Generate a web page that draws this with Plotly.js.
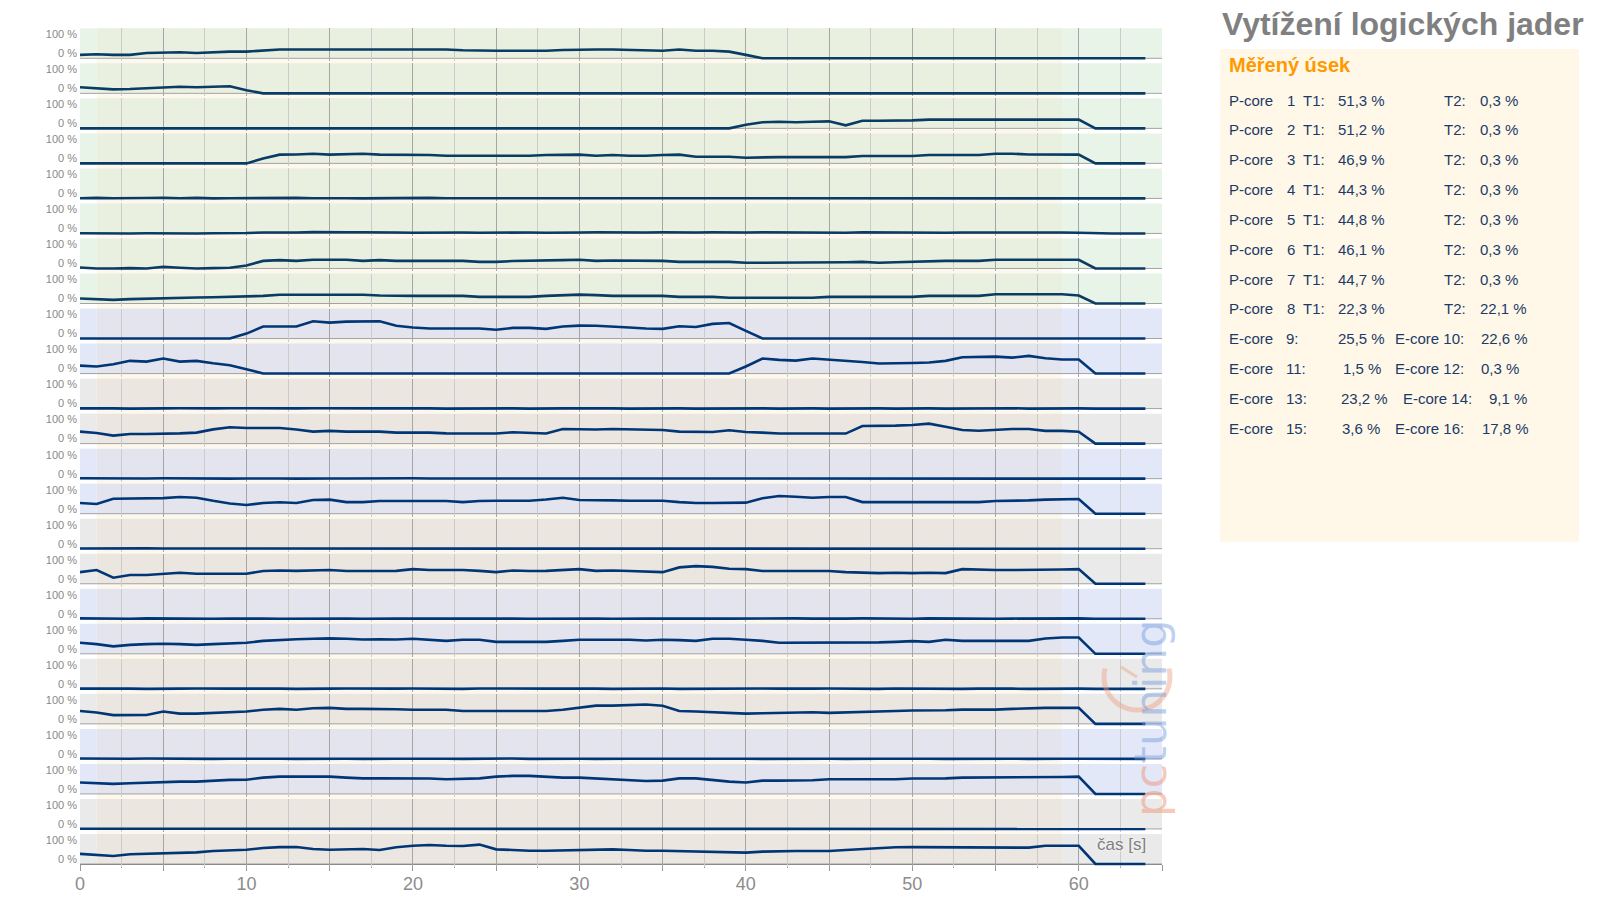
<!DOCTYPE html>
<html>
<head>
<meta charset="utf-8">
<script src="https://cdn.plot.ly/plotly-3.0.1.min.js"></script>
<style>html,body{margin:0;padding:0;background:#fff;}#chart{width:1599px;height:897px;}</style>
</head>
<body>
<div id="chart"></div>
<script>
// ---------------- DATA ----------------
const seconds = [0,1,2,3,4,5,6,7,8,9,10,11,12,13,14,15,16,17,18,19,20,21,22,23,24,25,26,27,28,29,30,31,32,33,34,35,36,37,38,39,40,41,42,43,44,45,46,47,48,49,50,51,52,53,54,55,56,57,58,59,60,61,62,63,64];

const row01 = [18,21,18,18,28,30,32,28,33,35, 35,42,46,46,46,46,46,46,46,46, 46,46,46,42,40,40,40,40,40,44, 46,46,46,44,40,40,46,40,40,35, 18,0,0,0,0,0,0,0,0,0, 0,0,0,0,0,0,0,0,0,0, 0,0,0,0,0];
const row02 = [32,26,21,23,28,30,35,32,35,37, 16,0,0,0,0,0,0,0,0,0, 0,0,0,0,0,0,0,0,0,0, 0,0,0,0,0,0,3,0,0,0, 0,0,0,0,0,0,0,0,0,0, 0,3,0,0,0,0,0,0,3,0, 3,0,0,0,0];
const row03 = [0,0,0,0,0,0,0,0,0,0, 0,0,0,0,0,0,0,0,0,0, 0,0,0,0,0,0,0,0,0,0, 0,0,0,0,0,0,2,0,0,0, 19,32,35,32,35,37,16,40,40,40, 42,46,46,46,46,46,49,47,46,46, 46,0,0,0,0];
const row04 = [0,0,0,0,0,0,0,0,0,0, 0,26,46,47,51,46,47,51,46,46, 46,44,40,40,40,40,40,40,44,46, 46,40,44,40,40,44,46,35,35,35, 30,33,33,33,33,33,33,39,39,39, 39,44,44,44,44,51,51,47,46,46, 46,0,0,0,0];
const row05 = [1,3,1,0,2,3,1,3,0,1, 2,0,1,3,1,2,1,0,1,2, 1,3,1,1,2,0,1,3,2,1, 0,2,1,3,1,0,2,1,0,2, 1,0,2,1,1,3,1,0,2,1, 0,1,3,1,1,2,0,3,1,2, 1,1,0,0,0];
const row06 = [1,0,1,0,1,0,1,0,1,1, 2,5,4,5,7,5,6,6,4,5, 4,5,6,5,4,5,6,5,4,6, 5,6,5,4,5,6,4,5,6,4, 5,6,5,6,5,5,4,6,5,5, 6,5,4,5,6,5,5,5,6,5, 4,1,0,0,0];
const row07 = [5,0,0,2,0,9,4,0,2,4, 16,40,44,40,46,46,46,40,44,40, 40,40,40,40,35,35,39,40,40,44, 46,40,42,42,42,40,35,35,35,35, 30,30,30,30,30,30,33,35,30,33, 35,40,40,40,40,46,46,46,46,46, 46,0,0,0,0];
const row08 = [26,23,19,23,26,28,32,32,33,35, 35,40,46,46,46,46,46,46,42,40, 40,40,40,40,35,35,35,35,40,44, 47,44,40,40,40,40,35,35,35,30, 30,30,30,30,30,35,35,35,35,35, 35,40,40,40,40,49,49,49,49,49, 42,0,0,0,0];
const row09 = [0,0,0,0,0,0,0,0,0,0, 26,63,63,63,91,84,89,91,91,67, 58,53,53,53,53,46,56,56,51,63, 68,67,61,58,53,51,65,61,77,82, 40,0,0,0,0,0,0,0,0,0, 0,0,0,0,0,0,0,0,0,0, 0,0,0,0,0];
const row10 = [42,37,49,67,63,79,63,67,54,44, 23,0,0,0,0,0,0,0,0,0, 0,0,0,0,0,0,0,0,0,0, 0,0,0,0,0,0,0,0,0,0, 37,79,72,68,79,74,67,61,53,53, 56,58,67,86,89,89,84,93,81,74, 74,0,0,0,0];
const row11 = [1,2,1,0,2,1,2,0,1,2, 1,0,2,1,2,1,0,2,1,1, 2,1,0,1,2,1,1,0,2,1, 1,2,1,0,1,2,1,0,1,2, 1,1,0,2,1,0,1,2,1,0, 2,1,0,1,2,1,2,0,1,2, 1,0,0,0,0];
const row12 = [63,56,42,51,51,51,54,58,75,86, 82,82,82,74,63,67,63,63,63,58, 58,58,54,53,53,53,60,58,53,77, 74,74,77,75,75,72,63,61,61,70, 61,58,53,53,53,53,53,93,93,95, 98,105,89,72,68,72,77,77,67,67, 63,0,0,0,0];
const row13 = [2,1,2,0,1,2,1,2,1,0, 1,2,1,0,2,1,1,2,0,1, 2,1,1,0,1,2,0,1,2,1, 1,0,2,1,1,0,1,2,1,0, 1,2,1,1,0,2,1,1,0,1, 2,1,0,1,2,1,1,2,0,2, 2,0,0,0,0];
const row14 = [56,51,79,79,81,82,88,84,68,54, 46,56,60,56,72,74,61,61,67,67, 67,67,67,61,67,68,67,68,75,84, 72,72,70,68,68,68,61,56,56,56, 58,81,93,89,84,88,88,61,61,61, 61,61,61,61,61,67,67,70,74,75, 77,0,0,0,0];
const row15 = [1,2,0,1,2,1,1,0,2,1, 1,2,1,1,0,2,1,0,1,2, 1,1,0,2,1,1,2,0,1,1, 2,1,0,1,2,1,0,1,2,1, 1,0,2,1,1,2,0,1,2,1, 1,0,1,2,1,1,0,2,1,1, 1,0,0,0,0];
const row16 = [61,72,32,46,46,51,58,53,53,53, 53,67,70,68,70,72,67,67,67,68, 77,72,72,72,68,61,70,67,68,72, 77,68,70,67,63,61,86,93,89,79, 77,67,67,67,67,67,61,58,56,58, 56,58,56,77,74,72,72,72,72,75, 77,0,0,0,0];
const row17 = [2,1,1,0,2,1,2,1,0,1, 2,1,0,1,2,1,1,0,2,1, 1,2,0,1,1,2,1,0,1,2, 1,1,0,2,1,1,0,2,1,1, 2,0,1,2,1,0,1,2,1,1, 0,2,1,1,2,0,1,2,1,1, 2,0,0,0,0];
const row18 = [58,51,39,47,51,53,51,47,51,54, 58,68,74,77,79,81,79,75,77,75, 79,74,68,74,74,63,63,60,63,68, 74,74,74,74,70,74,72,68,79,79, 74,68,58,58,58,58,58,58,60,63, 67,63,74,68,68,68,68,68,81,86, 86,0,0,0,0];
const row19 = [1,2,1,1,0,2,1,2,0,1, 1,2,1,0,2,1,2,1,0,1, 2,1,1,0,2,1,0,2,1,1, 2,1,0,1,1,2,0,1,2,1, 1,2,1,0,1,2,1,1,0,2, 1,1,2,0,1,2,1,0,1,2, 1,0,0,0,0];
const row20 = [68,60,46,47,47,65,54,54,58,63, 65,74,79,74,82,84,79,79,79,77, 74,74,74,68,68,68,68,68,68,74, 86,96,96,98,102,95,68,65,61,58, 54,56,58,58,61,58,61,65,65,68, 70,70,72,75,75,75,79,82,84,84, 84,0,0,0,0];
const row21 = [2,1,0,1,2,1,1,2,0,1, 2,1,1,0,1,2,1,0,2,1, 1,2,1,0,1,1,2,0,1,2, 1,0,2,1,1,2,0,1,1,2, 1,0,1,2,1,1,0,2,1,1, 2,1,0,1,1,2,1,0,2,1, 1,0,0,0,0];
const row22 = [60,56,53,56,60,63,65,65,70,74, 75,86,91,91,88,91,86,82,82,82, 82,81,77,81,82,91,95,95,89,86, 86,82,79,74,68,70,82,82,72,65, 60,70,70,70,72,77,77,77,77,77, 81,81,82,86,86,89,89,88,88,89, 91,0,0,0,0];
const row23 = [1,1,2,0,1,2,1,0,2,1, 1,2,0,1,2,1,1,0,1,2, 1,0,2,1,1,2,1,0,1,1, 2,1,0,1,2,1,1,0,2,1, 1,2,1,0,1,2,0,1,1,2, 1,0,1,2,1,1,2,0,1,1, 2,0,0,0,0];
const row24 = [53,47,42,51,53,56,58,61,68,72, 75,84,89,89,79,75,77,79,74,88, 96,100,96,95,102,77,74,70,70,72, 74,75,77,74,70,70,68,67,65,63, 60,65,68,68,68,68,74,79,82,88, 89,89,89,89,89,89,89,86,96,96, 96,0,0,0,0];

const rows = [row01,row02,row03,row04,row05,row06,row07,row08,row09,row10,row11,row12,
              row13,row14,row15,row16,row17,row18,row19,row20,row21,row22,row23,row24];
// panel group of each row: 'p' P-cores, 'b' blue, 'g' grey
const rowGroup = ['p','p','p','p','p','p','p','p','b','b','g','g','b','b','g','g','b','b','g','g','b','b','g','g'];

const measuredStart = 1, measuredEnd = 59;
const xTickVals = [0,5,10,15,20,25,30,35,40,45,50,55,60,65];
const xTickText = ['0','','10','','20','','30','','40','','50','','60',''];
const yTickVals = [0, 100];
const yTickText = ['0 %', '100 %'];

const chartTitle = 'Vytížení logických jader';
const boxTitle = 'Měřený úsek';
const pCoreNums = ['1','2','3','4','5','6','7','8'];
const pT1Vals = ['51,3 %','51,2 %','46,9 %','44,3 %','44,8 %','46,1 %','44,7 %','22,3 %'];
const pT2Vals = ['0,3 %','0,3 %','0,3 %','0,3 %','0,3 %','0,3 %','0,3 %','22,1 %'];
const eLeftNums = ['9:','11:','13:','15:'];
const eLeftVals = ['25,5 %','1,5 %','23,2 %','3,6 %'];
const eRightLabels = ['E-core 10:','E-core 12:','E-core 14:','E-core 16:'];
const eRightVals = ['22,6 %','0,3 %','9,1 %','17,8 %'];
const xAxisLabel = 'čas [s]';

// ---------------- LAYOUT GEOMETRY ----------------
const FONT = 'Liberation Sans, Arial, sans-serif';
const L = 80, R = 1162, T = 28, B = 867;
const PW = R - L, PH = B - T;
const AXIS_Y = 864;
const px = x => (x - L) / PW;
const py = y => (B - y) / PH;
const ROW0 = 58.3, ROWSTEP = 35.03, PANEL = 30, BELOW = 3;
const K = 100 / 19; // units per pixel

const colors = {
  p: {out: '#e8f4e8', inn: '#e9f0df', line: '#0a3b64'},
  b: {out: '#e3e8f9', inn: '#e4e4ef', line: '#003676'},
  g: {out: '#eaeaea', inn: '#ebe6df', line: '#003676'}
};

const traces = [];
const layout = {
  width: 1599, height: 897,
  margin: {l: L, r: 1599 - R, t: T, b: 897 - B, pad: 0},
  paper_bgcolor: '#ffffff', plot_bgcolor: 'rgba(0,0,0,0)',
  showlegend: false, hovermode: false,
  font: {family: FONT},
  title: {text: chartTitle, xref: 'container', yref: 'container', x: 1222/1599, xanchor: 'left',
          y: 1 - 24/897, yanchor: 'middle',
          font: {family: FONT, size: 32, color: '#808080', weight: 'bold'}},
  xaxis: {range: [0, 65], domain: [0, 1], anchor: 'free', position: py(AXIS_Y),
          tickmode: 'array', tickvals: xTickVals, ticktext: xTickText,
          ticks: 'outside', ticklen: 6, tickcolor: '#999999', tickwidth: 1,
          ticklabelstandoff: -3,
          showgrid: true, gridcolor: '#a6a6a6', gridwidth: 1,
          minor: {tickmode: 'linear', tick0: 0, dtick: 2.5, showgrid: true, gridcolor: '#cbcbcb',
                  ticks: 'outside', ticklen: 3, tickcolor: '#999999'},
          showline: true, linecolor: '#8a8a8a', linewidth: 1, zeroline: false,
          tickfont: {family: FONT, size: 18, color: '#8c8c8c'}, fixedrange: true},
  yaxis: {domain: [py(AXIS_Y), 1], range: [0, 1], anchor: 'x', showticklabels: false, ticks: '',
          showgrid: false, zeroline: false, showline: true, mirror: true, linecolor: '#a0a0a0', fixedrange: true},
  shapes: [], annotations: []
};

// measured-section cream band (shows in the gaps between panels)
layout.shapes.push({type: 'rect', xref: 'x', yref: 'paper', x0: measuredStart, x1: measuredEnd,
  y0: py(AXIS_Y), y1: 1, fillcolor: '#fdf8ee', line: {width: 0}, layer: 'below'});

rows.forEach((vals, i) => {
  const base = ROW0 + i * ROWSTEP;
  const axName = 'yaxis' + (i + 2);
  const c = colors[rowGroup[i]];
  layout[axName] = {
    domain: [Math.max(0, py(base + BELOW)), py(base - PANEL)],
    range: [-(Math.min(BELOW, B - base)) * K, PANEL * K],
    anchor: 'x', showgrid: false, zeroline: false, showline: false, ticks: '',
    tickmode: 'array', tickvals: yTickVals, ticktext: yTickText, ticklabelshift: -5, ticklabelstandoff: 2,
    tickfont: {family: FONT, size: 11, color: '#888888'}, fixedrange: true
  };
  const y0 = py(base), y1 = py(base - PANEL);
  layout.shapes.push({type: 'rect', xref: 'x', yref: 'paper', x0: 0, x1: measuredStart, y0: y0, y1: y1, fillcolor: c.out, line: {width: 0}, layer: 'below'});
  layout.shapes.push({type: 'rect', xref: 'x', yref: 'paper', x0: measuredStart, x1: measuredEnd, y0: y0, y1: y1, fillcolor: c.inn, line: {width: 0}, layer: 'below'});
  layout.shapes.push({type: 'rect', xref: 'x', yref: 'paper', x0: measuredEnd, x1: 65, y0: y0, y1: y1, fillcolor: c.out, line: {width: 0}, layer: 'below'});
  layout.shapes.push({type: 'line', xref: 'x', yref: 'paper', x0: 0, x1: 65, y0: y0, y1: y0, line: {color: '#a3a3a3', width: 1}, layer: 'below'});
  traces.push({type: 'scatter', mode: 'lines', x: seconds, y: vals, xaxis: 'x', yaxis: 'y' + (i + 2),
    line: {color: c.line, width: 2.6}, hoverinfo: 'skip'});
});

// x-axis caption
layout.annotations.push({text: xAxisLabel, xref: 'paper', yref: 'paper', x: px(1121), y: py(844),
  xanchor: 'center', yanchor: 'middle', showarrow: false,
  font: {family: FONT, size: 17, color: '#7f7f7f', shadow: '0 0 3px #ffffff'}});

// watermark logo
const wmC = {x: 1137, y: 677}, wmR = 33;
let arc = '';
for (let a = 75; a <= 285; a += 7.5) {
  const rad = a * Math.PI / 180;
  const xx = wmC.x - wmR * Math.sin(rad), yy = wmC.y - wmR * Math.cos(rad);
  arc += (arc ? ' L ' : 'M ') + px(xx).toFixed(5) + ',' + py(yy).toFixed(5);
}
layout.shapes.push({type: 'path', xref: 'paper', yref: 'paper', path: arc, line: {color: 'rgba(238,160,130,0.45)', width: 5}, layer: 'above'});
layout.shapes.push({type: 'line', xref: 'paper', yref: 'paper', x0: px(wmC.x), y0: py(wmC.y), x1: px(1121), y1: py(667),
  line: {color: 'rgba(238,160,130,0.45)', width: 3}, layer: 'above'});
layout.annotations.push({text: '<span style="color:rgba(236,150,120,0.5)">pc</span><span style="color:rgba(110,150,220,0.45)">tuning</span>',
  xref: 'paper', yref: 'paper', x: px(1150), y: py(718), xanchor: 'center', yanchor: 'middle', textangle: -90,
  showarrow: false, font: {family: 'DejaVu Sans', size: 45, weight: 400}});

// right info box
layout.shapes.push({type: 'rect', xref: 'paper', yref: 'paper', x0: px(1220), x1: px(1579), y0: py(542), y1: py(49),
  fillcolor: '#fff8e9', line: {width: 0}, layer: 'below'});
const ann = (text, x, y, opts = {}) => layout.annotations.push(Object.assign({
  text: text, xref: 'paper', yref: 'paper', x: px(x), y: py(y), xanchor: 'left', yanchor: 'middle',
  showarrow: false, font: {family: FONT, size: 15, color: '#1b3b66'}}, opts));
ann(boxTitle, 1227, 65, {font: {family: FONT, size: 20, color: '#ff9900', weight: 'bold'}});
const LINE0 = 100, LSTEP = 29.85;
pCoreNums.forEach((n, i) => {
  const y = LINE0 + i * LSTEP;
  ann('P-core', 1227, y); ann(n, 1285, y); ann('T1:', 1301, y);
  ann(pT1Vals[i], 1336, y); ann('T2:', 1442, y); ann(pT2Vals[i], 1478, y);
});
const eLeftValX = [1336, 1341, 1339, 1340];
const eRightLabX = [1393, 1393, 1401, 1393];
const eRightValX = [1479, 1479, 1487, 1480];
eLeftNums.forEach((n, i) => {
  const y = LINE0 + (8 + i) * LSTEP;
  ann('E-core', 1227, y); ann(n, 1284, y); ann(eLeftVals[i], eLeftValX[i], y);
  ann(eRightLabels[i], eRightLabX[i], y); ann(eRightVals[i], eRightValX[i], y);
});

Plotly.newPlot('chart', traces, layout, {staticPlot: true, displayModeBar: false});
</script>
</body>
</html>
